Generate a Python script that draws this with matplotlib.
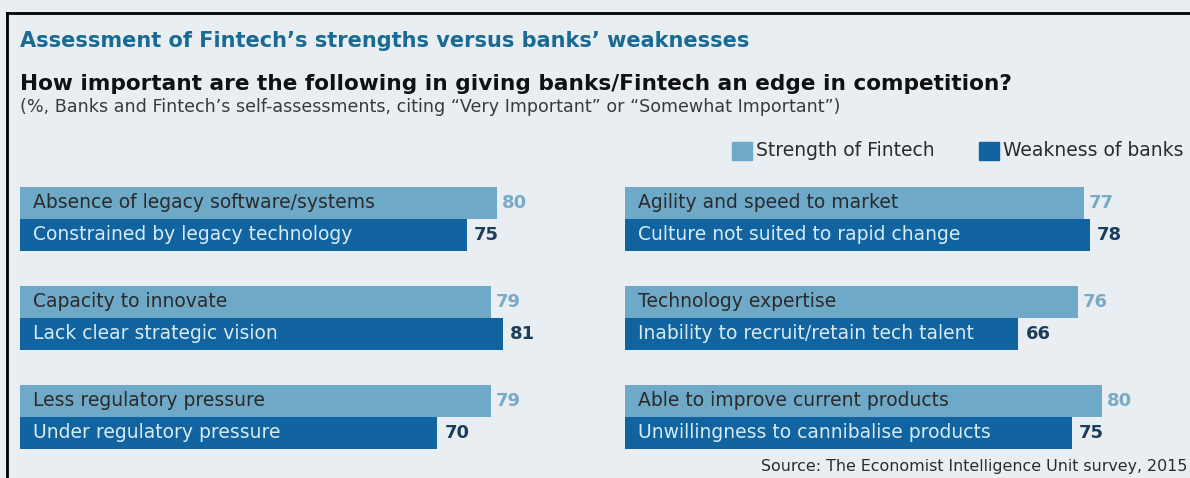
import matplotlib.pyplot as plt
from matplotlib.lines import Line2D

# Survey results, percent citing "very" or "somewhat" important
left_strengths = ["Absence of legacy software/systems", "Capacity to innovate",
                  "Less regulatory pressure"]
left_weaknesses = ["Constrained by legacy technology", "Lack clear strategic vision",
                   "Under regulatory pressure"]
left_fintech = [80, 79, 79]
left_banks = [75, 81, 70]

right_strengths = ["Agility and speed to market", "Technology expertise",
                   "Able to improve current products"]
right_weaknesses = ["Culture not suited to rapid change",
                    "Inability to recruit/retain tech talent",
                    "Unwillingness to cannibalise products"]
right_fintech = [77, 76, 80]
right_banks = [78, 66, 75]

bg = "#e9eef3"
light = "#6ea9c8"
dark = "#1164a0"
light_num = "#79aac6"
dark_num = "#1d3d5c"

plt.rcParams["font.family"] = ["DejaVu Sans"]

W, H = 1190, 478
fig = plt.figure(figsize=(W / 100, H / 100), dpi=100)
fig.patch.set_facecolor(bg)

def px_axes(x0, y0, w, h):
    return fig.add_axes([x0 / W, 1 - (y0 + h) / H, w / W, h / H])

scale = 5.96   # px per percentage point
pitch = 3.09   # distance between groups, in bar heights
bar_px = 32


def panel(x0, strengths, weaknesses, fintech, banks):
    ax = px_axes(x0, 155, 90 * scale, 10 * bar_px)
    ax.set_xlim(0, 90)
    ax.set_ylim(10, 0)
    ax.axis("off")
    for i in range(len(fintech)):
        y = 1 + i * pitch
        ax.barh(y + 0.5, fintech[i], height=1, color=light, align="center")
        ax.barh(y + 1.5, banks[i], height=1, color=dark, align="center")
        ax.text(2.2, y + 0.5, strengths[i], va="center", ha="left",
                fontsize=13.5, color="#2b2b2b")
        ax.text(2.2, y + 1.5, weaknesses[i], va="center", ha="left",
                fontsize=13.5, color="#d6ebf4")
        ax.text(fintech[i] + 0.8, y + 0.5, str(fintech[i]), va="center",
                ha="left", fontsize=13, fontweight="bold", color=light_num)
        ax.text(banks[i] + 1.2, y + 1.5, str(banks[i]), va="center",
                ha="left", fontsize=13, fontweight="bold", color=dark_num)
    return ax


panel(20, left_strengths, left_weaknesses, left_fintech, left_banks)
panel(625, right_strengths, right_weaknesses, right_fintech, right_banks)

# headings
fig.text(20 / W, 1 - 41 / H, "Assessment of Fintech’s strengths versus banks’ weaknesses",
         fontsize=15, fontweight="bold", color="#1a6a93", va="center")
fig.text(20 / W, 1 - 84 / H,
         "How important are the following in giving banks/Fintech an edge in competition?",
         fontsize=15.6, fontweight="bold", color="#111111", va="center")
fig.text(20 / W, 1 - 107 / H,
         "(%, Banks and Fintech’s self-assessments, citing “Very Important” or “Somewhat Important”)",
         fontsize=12.6, color="#3a3a3a", va="center")

# legend
for sx, col, lab in [(732, light, "Strength of Fintech"), (979, dark, "Weakness of banks")]:
    fig.patches.append(plt.Rectangle((sx / W, 1 - 160 / H), 20 / W, 18 / H,
                                     transform=fig.transFigure, color=col))
    fig.text((sx + 24) / W, 1 - 151 / H, lab, fontsize=13.5, color="#2b2b2b",
             va="center")

fig.text(1187 / W, 1 - 467 / H, "Source: The Economist Intelligence Unit survey, 2015",
         fontsize=11.4, color="#2b2b2b", ha="right", va="center")

# frame
fig.add_artist(Line2D([7 / W, 7 / W], [0, 1 - 13 / H], color="black", lw=2,
                      transform=fig.transFigure))
fig.add_artist(Line2D([7 / W, 1], [1 - 13 / H, 1 - 13 / H], color="black", lw=2,
                      transform=fig.transFigure))

fig.savefig("out.png", dpi=100, facecolor=bg)
